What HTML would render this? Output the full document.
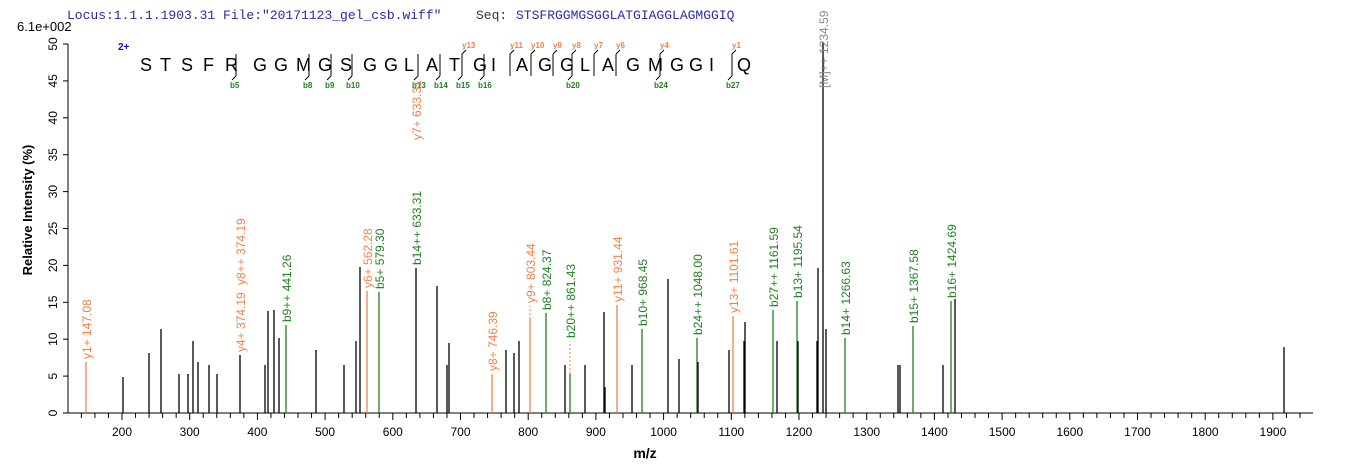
<!DOCTYPE html>
<html><head><meta charset="utf-8"><style>
html,body{margin:0;padding:0;background:#fff;}
svg{display:block;font-family:"Liberation Sans",Arial,sans-serif;}
</style></head><body>
<svg width="1362" height="473" viewBox="0 0 1362 473" xmlns="http://www.w3.org/2000/svg">
<text x="67" y="19" font-family="Liberation Mono,monospace" font-size="13" fill="#2a2aa8">Locus:1.1.1.1903.31 File:"20171123_gel_csb.wiff"</text>
<text x="476" y="19" font-family="Liberation Mono,monospace" font-size="13" fill="#333">Seq:</text>
<text x="516" y="19" font-family="Liberation Mono,monospace" font-size="13" fill="#2a2aa8">STSFRGGMGSGGLATGIAGGLAGMGGIQ</text>
<text x="17" y="31" font-size="13" fill="#000">6.1e+002</text>

<!-- axes -->
<g stroke="#000" stroke-width="1">
<line x1="68" y1="44" x2="68" y2="413"/>
<line x1="68" y1="413" x2="1313" y2="413"/>
</g>
<g id="yt" stroke="#000"></g>
<g id="yl" font-size="12" fill="#000"></g>
<g id="xt" stroke="#000"></g>
<g id="xl" font-size="12" fill="#000" text-anchor="middle"></g>
<text transform="translate(32,210) rotate(-90)" text-anchor="middle" font-size="13" font-weight="bold">Relative   Intensity (%)</text>
<text x="645" y="458" text-anchor="middle" font-size="14" font-weight="bold">m/z</text>

<!-- sequence -->
<text x="118" y="50" font-size="10" font-weight="bold" fill="#1010c0">2+</text>
<g id="seq" font-size="18" fill="#000"></g>
<g id="marks" stroke="#000" fill="none" stroke-width="1"></g>
<g id="mlab" font-size="8" font-weight="bold"></g>

<g id="peaks"></g>
<g id="plab" font-size="12"></g>
</svg>
<script>
var NS="http://www.w3.org/2000/svg";
function el(p,t,a,txt){var e=document.createElementNS(NS,t);for(var k in a)e.setAttribute(k,a[k]);if(txt!=null)e.textContent=txt;document.getElementById(p).appendChild(e);return e;}
var OR="#ef8248",GR="#1f7f1f";
for(var i=0;i<=10;i++){var y=413-i*5*7.38;el("yt","line",{x1:63,y1:y,x2:68,y2:y});
 var t=el("yl","text",{transform:"translate(57,"+y+") rotate(-90)","text-anchor":"middle"},String(i*5));}
function X(m){return 122+(m-200)*0.677;}
for(var m=120;m<=1960;m+=20){var x=X(m);if(x<68||x>1313)continue;el("xt","line",{x1:x,y1:413,x2:x,y2:(m%100==0?420:418)});
 if(m%100==0)el("xl","text",{x:x,y:436},String(m));}
var seq="STSFRGGMGSGGLATGIAGGLAGMGGIQ".split("");
var sx=[140,160,181,203,225,253,274,296,318,340,363,384,404,426,449,473,491,516,538,560,580,602,626,648,670,689,709,737];
seq.forEach(function(c,i){el("seq","text",{x:sx[i],y:71},c);});
var lines=[[236,"b5",null],[309,"b8",null],[331,"b9",null],[352,"b10",null],[418,"b13",null],[440,"b14",null],[462,"b15","y13"],[484,"b16",null],[510,null,"y11"],[531,null,"y10"],[553,null,"y9"],[572,"b20","y8"],[594,null,"y7"],[616,null,"y6"],[660,"b24","y4"],[732,"b27","y1"]];
lines.forEach(function(l){var x=l[0];el("marks","line",{x1:x,y1:54,x2:x,y2:76});
 if(l[1]){el("marks","line",{x1:x,y1:76,x2:x-4,y2:80});el("mlab","text",{x:x-6,y:88,fill:GR},l[1]);}
 if(l[2]){el("marks","line",{x1:x,y1:54,x2:x+4,y2:50});el("mlab","text",{x:x,y:48,fill:OR},l[2]);}
});
var P=[[86,362,OR],[123,377],[149,353],[161,329],[179,374],[188,374],[193,341],[198,362],[209,365],[217,374],[240,355],[265,365],[268,311],[274,310],[279,338],[286,325,GR],[316,350],[344,365],[356,341],[360,267],[367,291,OR],[379,292,GR],[416,268],[437,286],[447,365],[449,343],
[492,374,OR],[506,350],[514,353],[519,341],[530,319,OR],[546,313,GR],[565,365],[570,374,GR],[585,365],[604,312],[605,387],[617,305,OR],[632,365],[642,329,GR],[668,279],[679,359],[697,338,GR],[698,362],[729,350],[733,316,OR],[744,341],[745,322],[773,310,GR],[777,341],[797,301,GR],[798,341],[817,341],[818,268],[823,42],[826,329],[845,338,GR],
[898,365],[900,365],[913,326,GR],[943,365],[951,301,GR],[955,299],[1284,347]];
P.forEach(function(p){el("peaks","line",{x1:p[0],y1:413,x2:p[0],y2:p[1],stroke:p[2]||"#000","stroke-width":1.3});});
el("peaks","line",{x1:530,y1:319,x2:530,y2:306,stroke:OR,"stroke-dasharray":"2,2"});
el("peaks","line",{x1:570,y1:374,x2:570,y2:341,stroke:OR,"stroke-dasharray":"2,2"});
var L=[[86,359,"y1+ 147.08",OR],[240,352,"y4+ 374.19",OR],[240,285,"y8++ 374.19",OR],[286,322,"b9++ 441.26",GR],[367,288,"y6+ 562.28",OR],[379,289,"b5+ 579.30",GR],[416,265,"b14++ 633.31",GR],[416,140,"y7+ 633.31",OR],
[492,371,"y8+ 746.39",OR],[530,303,"y9+ 803.44",OR],[546,310,"b8+ 824.37",GR],[570,338,"b20++ 861.43",GR],[617,302,"y11+ 931.44",OR],[642,326,"b10+ 968.45",GR],[697,335,"b24++ 1048.00",GR],[733,313,"y13+ 1101.61",OR],[773,307,"b27++ 1161.59",GR],[797,298,"b13+ 1195.54",GR],[823,88,"[M]++ 1234.59","#888"],[845,335,"b14+ 1266.63",GR],[913,323,"b15+ 1367.58",GR],[951,298,"b16+ 1424.69",GR]];
L.forEach(function(l){el("plab","text",{transform:"translate("+(l[0]+5)+","+l[1]+") rotate(-90)",fill:l[3]},l[2]);});
</script>
</body></html>
